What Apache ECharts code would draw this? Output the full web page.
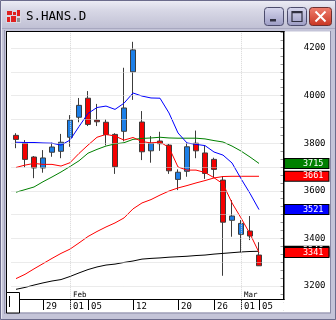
<!DOCTYPE html>
<html><head><meta charset="utf-8">
<script src="https://cdn.jsdelivr.net/npm/echarts@6/dist/echarts.min.js"></script>
<style>html,body{margin:0;padding:0;background:#fff}#c{width:336px;height:320px}</style>
</head><body><div id="c"></div>
<script>
const categories = ['01-24','01-25','01-26','01-29','01-30','01-31','02-01','02-02','02-05','02-06','02-07','02-08','02-09','02-12','02-13','02-14','02-15','02-16','02-20','02-21','02-22','02-23','02-26','02-27','02-28','03-01','03-02','03-05'];
const dayTicks = ['01-29','02-01','02-05','02-12','02-20','02-26','03-01','03-05'];
const monthLabels = {'02-01':'Feb','03-01':'Mar'};
const yTickLabels = [3200,3400,3600,3800,4000,4200];
const yGridValues = [3200,3300,3400,3500,3600,3700,3800,3900,4000,4100,4200];

const opens  = [3833,3800,3742,3696,3762,3766,3825,3909,3989,3897,3888,3837,3850,4100,3889,3768,3809,3792,3648,3682,3800,3759,3732,3645,3476,3417,3431,3330];
const closes = [3816,3732,3696,3738,3784,3804,3897,3959,3879,3890,3836,3701,3948,4192,3764,3800,3798,3684,3678,3785,3768,3673,3690,3468,3494,3463,3410,3285];
const lows   = [3779,3699,3653,3676,3743,3737,3785,3888,3872,3872,3791,3671,3808,3982,3729,3718,3768,3671,3603,3659,3737,3650,3656,3243,3407,3342,3393,3284];
const highs  = [3842,3813,3746,3771,3802,3839,3918,3990,4019,3965,3900,3842,4117,4226,3935,3830,3848,3797,3690,3800,3853,3788,3739,3662,3561,3477,3494,3384];

const blueMA     = [3804,3803,3803,3801,3800,3792,3813,3870,3925,3950,3956,3942,3968,4011,3998,3990,3989,3927,3843,3801,3795,3790,3763,3750,3717,3651,3589,3521];
const shortRedMA = [3698,3708,3715,3711,3711,3704,3718,3757,3792,3825,3837,3830,3813,3824,3807,3801,3805,3782,3700,3687,3687,3677,3655,3629,3549,3486,3419,3341];
const greenMA    = [3594,3605,3616,3638,3658,3679,3702,3726,3758,3774,3788,3797,3802,3816,3820,3822,3825,3822,3821,3821,3821,3818,3811,3805,3788,3767,3742,3715];
const longRedMA  = [3231,3249,3272,3294,3316,3337,3355,3381,3408,3429,3448,3465,3486,3524,3549,3563,3582,3599,3612,3622,3633,3643,3654,3660,3661,3661,3661,3661];
const blackMA    = [3186,3194,3204,3213,3221,3227,3240,3255,3269,3280,3288,3292,3299,3305,3313,3316,3318,3321,3323,3325,3328,3330,3334,3337,3340,3343,3345,3346];

const axisCats = categories.concat(['', ' ']);
const ohlc = opens.map((o, i) => [o, closes[i], lows[i], highs[i]]);
const MONO = 'DejaVu Sans Mono';

function endLabel(bg) {
  return {show: true, distance: 26, formatter: p => String(Math.round(p.value)),
    color: '#fff', backgroundColor: bg, borderColor: '#000', borderWidth: 1,
    padding: [1, 5, 0, 18], fontFamily: MONO, fontSize: 8.5, lineHeight: 8};
}
function lineSeries(data, color, z) {
  return {type: 'line', data: data, symbol: 'none', showSymbol: false, z: z,
    lineStyle: {color: color, width: 1}, itemStyle: {color: color},
    endLabel: endLabel(color), emphasis: {disabled: true}};
}

const LAV = '#c4c4d8', DARK = '#6c6c8c';
const graphics = [
  {type: 'rect', z: 100, shape: {x: 0, y: 0, width: 336, height: 28.5},
    style: {fill: new echarts.graphic.LinearGradient(0, 0, 0, 1, [
      {offset: 0, color: '#eeeef6'}, {offset: 0.35, color: '#d8d8e6'}, {offset: 1, color: '#c0c0d4'}])}},
  {type: 'rect', z: 100, shape: {x: 0, y: 28.5, width: 336, height: 3}, style: {fill: LAV}},
  {type: 'line', z: 101, shape: {x1: 0, y1: 28.5, x2: 336, y2: 28.5}, style: {stroke: '#a8a8c0', lineWidth: 1}},
  {type: 'rect', z: 100, shape: {x: 0, y: 28, width: 6, height: 292}, style: {fill: LAV}},
  {type: 'rect', z: 100, shape: {x: 330, y: 28, width: 6, height: 292}, style: {fill: LAV}},
  {type: 'rect', z: 100, shape: {x: 0, y: 312.5, width: 336, height: 7.5}, style: {fill: LAV}},
  {type: 'line', z: 101, shape: {x1: 330.5, y1: 31, x2: 330.5, y2: 313}, style: {stroke: '#8a8aa6', lineWidth: 1}},
  {type: 'line', z: 101, shape: {x1: 5.5, y1: 313, x2: 331, y2: 313}, style: {stroke: '#8a8aa6', lineWidth: 1}},
  {type: 'line', z: 101, shape: {x1: 4.5, y1: 30, x2: 4.5, y2: 314}, style: {stroke: '#9a9ab4', lineWidth: 1}},
  {type: 'rect', z: 102, shape: {x: 0.5, y: 0.5, width: 335, height: 319}, style: {fill: null, stroke: DARK, lineWidth: 1}},
  {type: 'line', z: 102, shape: {x1: 1.5, y1: 1.5, x2: 1.5, y2: 318.5}, style: {stroke: '#e6e6f0', lineWidth: 1}},
  {type: 'rect', z: 100, shape: {x: 276, y: 300, width: 7.5, height: 12}, style: {fill: '#ffffff'}},
  {type: 'line', z: 103, shape: {x1: 6, y1: 31.5, x2: 284.5, y2: 31.5}, style: {stroke: '#000', lineWidth: 1}},
  {type: 'line', z: 103, shape: {x1: 6.5, y1: 31, x2: 6.5, y2: 293}, style: {stroke: '#000', lineWidth: 1}},
  {type: 'line', z: 103, shape: {x1: 283.75, y1: 31, x2: 283.75, y2: 300}, style: {stroke: '#000', lineWidth: 1.5}},
  {type: 'line', z: 103, shape: {x1: 6, y1: 299.5, x2: 284.5, y2: 299.5}, style: {stroke: '#000', lineWidth: 1}},
  {type: 'rect', z: 104, shape: {x: 6.5, y: 292.5, width: 13, height: 20.5}, style: {fill: '#fff', stroke: '#000', lineWidth: 1}},
  {type: 'line', z: 105, shape: {x1: 9.5, y1: 296, x2: 9.5, y2: 307}, style: {stroke: '#000', lineWidth: 1}},
  {type: 'rect', z: 104, shape: {x: 6, y: 10, width: 15, height: 13}, style: {fill: '#d8d8e4'}},
  {type: 'rect', z: 105, shape: {x: 7, y: 11, width: 5, height: 4}, style: {fill: '#e02020'}},
  {type: 'rect', z: 105, shape: {x: 13, y: 12, width: 3, height: 3}, style: {fill: '#e02020'}},
  {type: 'rect', z: 105, shape: {x: 17, y: 10, width: 3, height: 6}, style: {fill: '#e02020'}},
  {type: 'rect', z: 105, shape: {x: 7, y: 17, width: 3, height: 5}, style: {fill: '#e02020'}},
  {type: 'rect', z: 105, shape: {x: 11, y: 16, width: 5, height: 6}, style: {fill: '#e02020'}},
  {type: 'rect', z: 105, shape: {x: 17, y: 18, width: 3, height: 4}, style: {fill: '#909090'}},
  {type: 'text', z: 105, x: 26, y: 17, style: {text: 'S.HANS.D', font: '12.5px "DejaVu Sans Mono"', fill: '#000', verticalAlign: 'middle', align: 'left'}},
  {type: 'rect', z: 105, shape: {x: 264.5, y: 7.5, width: 19, height: 18, r: 3},
    style: {fill: new echarts.graphic.LinearGradient(0, 0, 0, 1, [{offset: 0, color: '#d8d8ee'}, {offset: 1, color: '#9c9cc4'}]), stroke: '#4c4c6c', lineWidth: 1}},
  {type: 'rect', z: 106, shape: {x: 270, y: 19, width: 6, height: 2.5}, style: {fill: '#303040'}},
  {type: 'rect', z: 105, shape: {x: 287.5, y: 7.5, width: 19, height: 18, r: 3},
    style: {fill: new echarts.graphic.LinearGradient(0, 0, 0, 1, [{offset: 0, color: '#d8d8ee'}, {offset: 1, color: '#9c9cc4'}]), stroke: '#4c4c6c', lineWidth: 1}},
  {type: 'rect', z: 106, shape: {x: 292, y: 11.5, width: 10, height: 10}, style: {fill: null, stroke: '#303040', lineWidth: 1.2}},
  {type: 'line', z: 106, shape: {x1: 292, y1: 12.5, x2: 302, y2: 12.5}, style: {stroke: '#303040', lineWidth: 1.5}},
  {type: 'rect', z: 105, shape: {x: 309.5, y: 7.5, width: 22, height: 18, r: 3},
    style: {fill: new echarts.graphic.LinearGradient(0, 0, 0, 1, [{offset: 0, color: '#f08070'}, {offset: 1, color: '#c83420'}]), stroke: '#6c3030', lineWidth: 1}},
  {type: 'line', z: 106, shape: {x1: 315.5, y1: 11.5, x2: 325.5, y2: 21.5}, style: {stroke: '#fff', lineWidth: 2}},
  {type: 'line', z: 106, shape: {x1: 325.5, y1: 11.5, x2: 315.5, y2: 21.5}, style: {stroke: '#fff', lineWidth: 2}}
];

const gridLineStyle = {color: '#d6d6d6', width: 1, type: 'dotted'};
const chart = echarts.init(document.getElementById('c'), null, {renderer: 'canvas'});
chart.setOption({
  animation: false,
  backgroundColor: '#ffffff',
  textStyle: {fontFamily: MONO},
  grid: {left: 11.5, right: 54.5, top: 24.2, bottom: 10.2, containLabel: false, outerBoundsMode: 'none'},
  xAxis: [{
    type: 'category', data: axisCats, boundaryGap: true, position: 'bottom', offset: -10.8,
    axisLine: {show: false, onZero: false},
    axisTick: {show: true, alignWithLabel: true, interval: (i, v) => dayTicks.includes(v), length: 11, lineStyle: {color: '#000', width: 1}},
    axisLabel: {show: true, interval: (i, v) => dayTicks.includes(v), formatter: v => v.slice(3),
      align: 'left', padding: [0, 0, 0, 3], margin: 3, fontFamily: MONO, fontSize: 9, color: '#000'},
    splitLine: {show: false}
  }, {
    type: 'category', data: axisCats, boundaryGap: true, position: 'bottom', offset: -10.8, gridIndex: 0,
    axisLine: {show: false, onZero: false}, axisTick: {show: false}, splitLine: {show: false},
    axisLabel: {show: true, inside: true, interval: (i, v) => (v in monthLabels), formatter: v => monthLabels[v] || '',
      align: 'left', padding: [0, 0, 0, 3], margin: 0, fontFamily: MONO, fontSize: 7.5, color: '#000'}
  }],
  yAxis: {
    type: 'value', position: 'right', min: 3100, max: 4300, interval: 100, offset: 2,
    axisLine: {show: false},
    axisTick: {show: true, inside: true, length: 3, lineStyle: {color: '#999'}},
    minorTick: {show: true, splitNumber: 3, length: 3, lineStyle: {color: '#999'}},
    splitLine: {show: false},
    axisLabel: {formatter: v => yTickLabels.includes(v) ? String(v) : '', align: 'right', margin: 42,
      padding: [0, 0, 3, 0], fontFamily: MONO, fontSize: 9, color: '#000'}
  },
  series: [
    {type: 'candlestick', data: ohlc, barWidth: 5, z: 2, emphasis: {disabled: true},
      itemStyle: {color: '#1c7fe8', color0: '#f40000', borderColor: '#3c3c3c', borderColor0: '#3c3c3c', borderWidth: 1},
      markLine: {silent: true, symbol: ['none', 'none'], label: {show: false},
        lineStyle: gridLineStyle,
        data: [{xAxis: '02-01'}, {xAxis: '03-01'}].concat(yGridValues.map(v => ({yAxis: v})))}},
    lineSeries(longRedMA, '#ff0000', 3),
    lineSeries(greenMA, '#008000', 3),
    lineSeries(blueMA, '#0000ff', 3),
    lineSeries(blackMA, '#000000', 3),
    lineSeries(shortRedMA, '#ff0000', 4)
  ],
  graphic: {elements: graphics}
});
</script></body></html>
